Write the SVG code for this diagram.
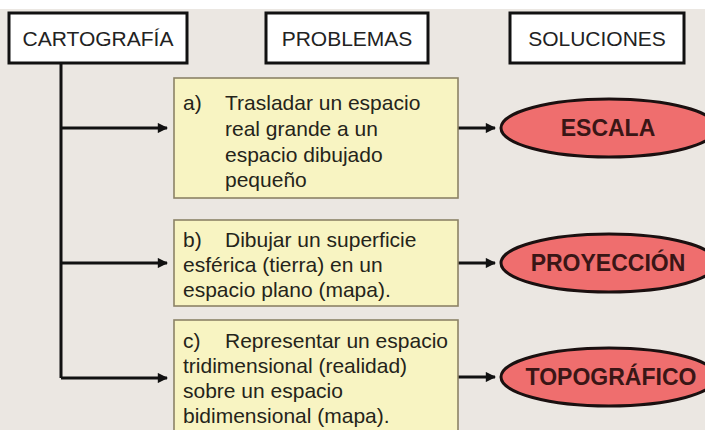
<svg xmlns="http://www.w3.org/2000/svg" width="705" height="430" viewBox="0 0 705 430">
<style>
.hdr{fill:#fff;stroke:#111;stroke-width:3}
.hdrt{font-family:"Liberation Sans",Arial,sans-serif;font-size:21px;fill:#222;text-anchor:middle}
.prob{fill:#f8f4c2;stroke:#8c8366;stroke-width:1.6}
.pt{font-family:"Liberation Sans",Arial,sans-serif;font-size:21px;fill:#25241a}
.sol{fill:#ef6e6e;stroke:#1a1010;stroke-width:3}
.st{font-family:"Liberation Sans",Arial,sans-serif;font-size:23px;font-weight:bold;fill:#3a1616;text-anchor:middle}
.ln{fill:none;stroke:#111;stroke-width:3}
</style>
<defs>
<marker id="ah" viewBox="0 0 10 10" refX="9" refY="5" markerWidth="4" markerHeight="3.4" orient="auto" markerUnits="strokeWidth">
<path d="M0,0 L10,5 L0,10 z" fill="#111"/>
</marker>
</defs>
<rect x="0" y="0" width="705" height="430" fill="#ebe7e2"/>
<rect x="0" y="0" width="705" height="9" fill="#ffffff"/>
<g id="connectors">
<path class="ln" d="M61,63 V378"/>
<path class="ln" d="M61,128 H167" marker-end="url(#ah)"/>
<path class="ln" d="M61,263 H167" marker-end="url(#ah)"/>
<path class="ln" d="M61,378 H167" marker-end="url(#ah)"/>
<path class="ln" d="M458,128 H495" marker-end="url(#ah)"/>
<path class="ln" d="M458,263 H495" marker-end="url(#ah)"/>
<path class="ln" d="M458,377 H495" marker-end="url(#ah)"/>
</g>
<g id="cartografia">
<rect class="hdr" x="9" y="13" width="178" height="50"/>
<text class="hdrt" x="98" y="46">CARTOGRAFÍA</text>
</g>
<g id="problemas">
<rect class="hdr" x="266" y="13" width="162" height="50"/>
<text class="hdrt" x="347" y="46">PROBLEMAS</text>
</g>
<g id="soluciones">
<rect class="hdr" x="510" y="13" width="174" height="50"/>
<text class="hdrt" x="597" y="46">SOLUCIONES</text>
</g>
<g id="prob-a">
<rect class="prob" x="174" y="78" width="284" height="120"/>
<text class="pt"><tspan x="183" y="110">a)</tspan><tspan x="225" y="110">Trasladar un espacio</tspan><tspan x="225" y="136">real grande a un</tspan><tspan x="225" y="162">espacio dibujado</tspan><tspan x="225" y="187">pequeño</tspan></text>
</g>
<g id="prob-b">
<rect class="prob" x="174" y="220" width="284" height="86"/>
<text class="pt"><tspan x="183" y="247">b)</tspan><tspan x="225" y="247">Dibujar un superficie</tspan><tspan x="183" y="272">esférica (tierra) en un</tspan><tspan x="183" y="297">espacio plano (mapa).</tspan></text>
</g>
<g id="prob-c">
<rect class="prob" x="174" y="320" width="284" height="120"/>
<text class="pt"><tspan x="183" y="348">c)</tspan><tspan x="225" y="348">Representar un espacio</tspan><tspan x="183" y="373">tridimensional (realidad)</tspan><tspan x="183" y="398">sobre un espacio</tspan><tspan x="183" y="423">bidimensional (mapa).</tspan></text>
</g>
<g id="escala">
<ellipse class="sol" cx="609" cy="128" rx="108" ry="29"/>
<text class="st" x="608" y="136">ESCALA</text>
</g>
<g id="proyeccion">
<ellipse class="sol" cx="609" cy="263" rx="108" ry="29"/>
<text class="st" x="608" y="271">PROYECCIÓN</text>
</g>
<g id="topografico">
<ellipse class="sol" cx="609" cy="377" rx="108" ry="29"/>
<text class="st" x="611" y="385">TOPOGRÁFICO</text>
</g>
</svg>
